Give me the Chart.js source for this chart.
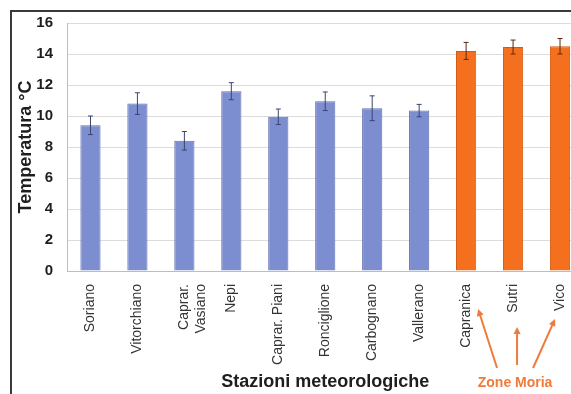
<!DOCTYPE html>
<html lang="it">
<head>
<meta charset="utf-8">
<title>Temperatura media per stazione meteorologica</title>
<script src="https://cdn.jsdelivr.net/npm/chart.js@4.4.1/dist/chart.umd.min.js"></script>
<style>
  html, body { margin: 0; padding: 0; background: #ffffff; overflow: hidden; }
  #wrap { position: relative; width: 590px; height: 394px; }
  #frame {
    position: absolute; left: 10px; top: 10px; right: 0; bottom: 0;
    border-top: 2px solid #3a3a3a; border-left: 2px solid #3a3a3a;
    pointer-events: none;
  }
  canvas { display: block; }
</style>
</head>
<body>
<div id="wrap">
  <canvas id="chart" width="590" height="394"></canvas>
  <div id="frame"></div>
</div>
<script>
// Stazioni meteorologiche (categorie dell'asse x)
const stations = [
  'Soriano', 'Vitorchiano', ['Caprar.', 'Vasiano'], 'Nepi', 'Caprar. Piani',
  'Ronciglione', 'Carbognano', 'Vallerano', 'Capranica', 'Sutri', 'Vico'
];
// Temperatura media (°C) e deviazione standard per stazione
const meanTemp = [9.4, 10.8, 8.4, 11.6, 9.95, 10.95, 10.5, 10.35, 14.2, 14.45, 14.5];
const stdDev   = [0.6, 0.7, 0.6, 0.55, 0.5, 0.6, 0.8, 0.4, 0.55, 0.45, 0.5];
// Stazioni che ricadono nelle zone di moria
const moriaStations = ['Capranica', 'Sutri', 'Vico'];
// Tacche dell'asse y
const yTicks = [0, 2, 4, 6, 8, 10, 12, 14, 16];

const BLUE = '#7d8ed0', BLUE_EDGE = '#5f6fb0';
const ORANGE = '#f4701f', ORANGE_EDGE = '#d35a12';
const ARROW = '#f07a3c';

const isMoria = stations.map(s => moriaStations.includes(Array.isArray(s) ? s.join(' ') : s));

// Barre di errore (± deviazione standard) disegnate sopra le colonne
const errorBars = {
  id: 'errorBars',
  afterDatasetsDraw(chart) {
    const { ctx, scales: { y } } = chart;
    const meta = chart.getDatasetMeta(0);
    ctx.save();
    ctx.lineWidth = 1;
    meta.data.forEach((bar, i) => {
      const top = y.getPixelForValue(meanTemp[i] + stdDev[i]);
      const bot = y.getPixelForValue(meanTemp[i] - stdDev[i]);
      ctx.strokeStyle = isMoria[i] ? '#5a2a10' : '#3b4470';
      ctx.beginPath();
      ctx.moveTo(bar.x, top); ctx.lineTo(bar.x, bot);
      ctx.moveTo(bar.x - 2.5, top); ctx.lineTo(bar.x + 2.5, top);
      ctx.moveTo(bar.x - 2.5, bot); ctx.lineTo(bar.x + 2.5, bot);
      ctx.stroke();
    });
    ctx.restore();
  }
};

// Etichetta "Zone Moria" con frecce verso le stazioni interessate
const moriaNote = {
  id: 'moriaNote',
  afterDraw(chart) {
    const { ctx, scales: { x } } = chart;
    const idx = isMoria.map((m, i) => m ? i : -1).filter(i => i >= 0);
    const mid = x.getPixelForValue(idx[1]);
    const labelY = 383;
    ctx.save();
    ctx.fillStyle = ARROW;
    ctx.font = 'bold 14px "Liberation Sans", Arial, sans-serif';
    ctx.textAlign = 'center';
    ctx.textBaseline = 'middle';
    ctx.fillText('Zone Moria', mid + 2, labelY);

    const arrows = [
      { from: [mid - 16, 368], to: [x.getPixelForValue(idx[0]) + 12, 309] },
      { from: [mid + 4, 365],  to: [x.getPixelForValue(idx[1]) + 4, 327] },
      { from: [mid + 20, 368], to: [x.getPixelForValue(idx[2]) - 5, 319] }
    ];
    ctx.strokeStyle = ARROW;
    ctx.lineWidth = 2;
    arrows.forEach(({ from, to }) => {
      const ang = Math.atan2(to[1] - from[1], to[0] - from[0]);
      ctx.beginPath();
      ctx.moveTo(from[0], from[1]);
      ctx.lineTo(to[0] - 5 * Math.cos(ang), to[1] - 5 * Math.sin(ang));
      ctx.stroke();
      ctx.beginPath();
      ctx.moveTo(to[0], to[1]);
      ctx.lineTo(to[0] - 7 * Math.cos(ang) + 3.5 * Math.sin(ang), to[1] - 7 * Math.sin(ang) - 3.5 * Math.cos(ang));
      ctx.lineTo(to[0] - 7 * Math.cos(ang) - 3.5 * Math.sin(ang), to[1] - 7 * Math.sin(ang) + 3.5 * Math.cos(ang));
      ctx.closePath();
      ctx.fill();
    });
    ctx.restore();
  }
};

new Chart(document.getElementById('chart'), {
  type: 'bar',
  data: {
    labels: stations,
    datasets: [{
      data: meanTemp,
      backgroundColor: isMoria.map(m => m ? ORANGE : BLUE),
      borderColor: isMoria.map(m => m ? ORANGE_EDGE : BLUE_EDGE),
      borderWidth: 1,
      barPercentage: 0.43,
      categoryPercentage: 1
    }]
  },
  options: {
    responsive: false,
    devicePixelRatio: 1,
    animation: false,
    layout: { padding: { left: 0, right: 4, top: 20, bottom: 0 } },
    plugins: { legend: { display: false }, tooltip: { enabled: false } },
    scales: {
      x: {
        grid: { display: false, drawTicks: false },
        border: { display: true, color: '#bdbdbd', width: 1 },
        ticks: {
          color: '#333333',
          font: { family: '"Liberation Sans", Arial, sans-serif', size: 14 },
          minRotation: 90, maxRotation: 90, autoSkip: false, padding: 13
        },
        title: {
          display: true,
          text: 'Stazioni meteorologiche',
          color: '#1e1e1e',
          font: { family: '"Liberation Sans", Arial, sans-serif', size: 18, weight: 'bold' },
          padding: { top: 0, bottom: 1 }
        },
        afterFit(scale) { scale.height = 123; }
      },
      y: {
        min: 0, max: 16,
        afterBuildTicks(scale) { scale.ticks = yTicks.map(v => ({ value: v })); },
        grid: { color: '#dcdcdc', lineWidth: 1, drawTicks: false },
        border: { display: true, color: '#bdbdbd', width: 1 },
        ticks: {
          color: '#1e1e1e',
          font: { family: '"Liberation Sans Narrow", "Liberation Sans", Arial, sans-serif', size: 15, weight: 'bold' },
          padding: 14
        },
        title: {
          display: true,
          text: 'Temperatura °C',
          color: '#1e1e1e',
          font: { family: '"Liberation Sans", Arial, sans-serif', size: 18, weight: 'bold' },
          padding: { top: 15, bottom: 0 }
        },
        afterFit(scale) { scale.width = 67; }
      }
    }
  },
  plugins: [errorBars, moriaNote]
});
</script>
</body>
</html>
